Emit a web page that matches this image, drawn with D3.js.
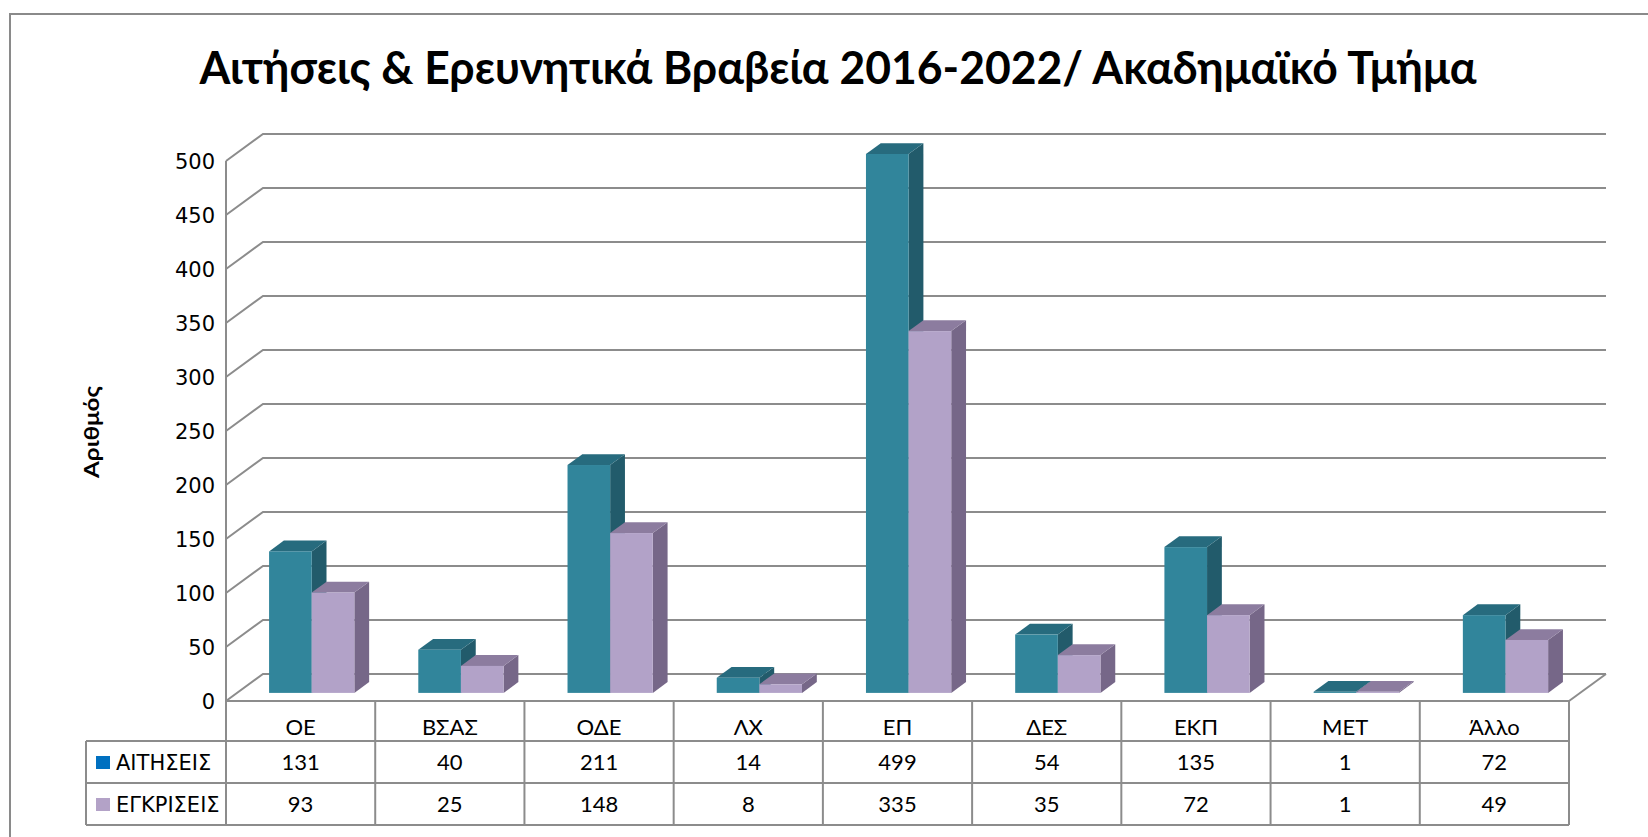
<!DOCTYPE html>
<html>
<head>
<meta charset="utf-8">
<script src="https://cdn.jsdelivr.net/npm/d3@7"></script>
<style>
  body { margin: 0; background: #fff; }
  svg { display: block; }
</style>
</head>
<body>
<script>
// data
const categories = ["ΟΕ", "ΒΣΑΣ", "ΟΔΕ", "ΛΧ", "ΕΠ", "ΔΕΣ", "ΕΚΠ", "ΜΕΤ", "Άλλο"];
const seriesNames = ["ΑΙΤΗΣΕΙΣ", "ΕΓΚΡΙΣΕΙΣ"];
const aitiseis = [131, 40, 211, 14, 499, 54, 135, 1, 72];
const egkriseis = [93, 25, 148, 8, 335, 35, 72, 1, 49];
const yTicks = [0, 50, 100, 150, 200, 250, 300, 350, 400, 450, 500];

const W = 1648, H = 837;
const gridColor = "#8c8c8c";

// face colours: front, top, side
const colors = [
  { front: "#31859b", top: "#276b7e", side: "#225b6b", key: "#0070c0" },
  { front: "#b2a2c8", top: "#8c7c9f", side: "#766788", key: "#b3a2c7" }
];

const svg = d3.select("body").append("svg")
  .attr("width", W)
  .attr("height", H);

// outer chart frame (right/bottom edges run off the page)
svg.append("rect")
  .attr("x", 10).attr("y", 14)
  .attr("width", 1700).attr("height", 900)
  .attr("fill", "none")
  .attr("stroke", "#8a8a8a")
  .attr("stroke-width", 2);

// title
svg.append("text")
  .attr("x", 838).attr("y", 84)
  .attr("text-anchor", "middle")
  .attr("font-family", "Lato, 'Noto Sans', sans-serif")
  .attr("font-weight", "bold")
  .attr("font-size", 46)
  .attr("textLength", 1277)
  .attr("lengthAdjust", "spacingAndGlyphs")
  .attr("fill", "#000")
  .text("Αιτήσεις & Ερευνητικά Βραβεία 2016-2022/ Ακαδημαϊκό Τμήμα");

// 3d plot geometry (oblique projection)
const left = 226, right = 1569;
const depthX = 37, depthY = -27;

const x = d3.scaleBand().domain(categories).range([left, right]).paddingInner(0).paddingOuter(0);
const y = d3.scaleLinear().domain([0, 500]).range([701, 161]);
const xs = d3.scaleBand().domain(seriesNames).range([0, x.bandwidth()]).paddingInner(0).paddingOuter(0.75);

const grid = svg.append("g")
  .attr("fill", "none")
  .attr("stroke", gridColor)
  .attr("stroke-width", 2);

// gridlines: side wall diagonal + back wall horizontal
yTicks.forEach(t => {
  const yy = y(t);
  grid.append("path")
    .attr("d", `M${left},${yy} L${left + depthX},${yy + depthY} L${right + depthX},${yy + depthY}`);
});
// front edge of side wall
grid.append("line")
  .attr("x1", left).attr("x2", left)
  .attr("y1", y(500)).attr("y2", y(0));
// floor right edge
grid.append("line")
  .attr("x1", right).attr("y1", y(0))
  .attr("x2", right + depthX).attr("y2", y(0) + depthY);

// y tick labels
svg.append("g")
  .selectAll("text")
  .data(yTicks)
  .join("text")
  .attr("x", 215)
  .attr("y", d => y(d))
  .attr("dy", "0.36em")
  .attr("text-anchor", "end")
  .attr("font-family", "'DejaVu Sans', Verdana, sans-serif")
  .attr("font-size", 21)
  .attr("fill", "#000")
  .text(d => d);

// y axis title
svg.append("text")
  .attr("transform", "translate(99,432) rotate(-90)")
  .attr("text-anchor", "middle")
  .attr("font-family", "Lato, 'Noto Sans', sans-serif")
  .attr("font-weight", "bold")
  .attr("font-size", 21)
  .attr("textLength", 92)
  .attr("lengthAdjust", "spacingAndGlyphs")
  .attr("fill", "#000")
  .text("Αριθμός");

// bars
const d0 = 0.3, dd = 0.4; // bar front depth & bar depth as fraction of floor depth
const bdx = dd * depthX, bdy = dd * depthY;
const series = [aitiseis, egkriseis];

const bars = svg.append("g");
categories.forEach((c, i) => {
  series.forEach((vals, s) => {
    const v = vals[i];
    const xl = x(c) + xs(seriesNames[s]) + d0 * depthX;
    const xr = xl + xs.bandwidth();
    const yb = y(0) + d0 * depthY;
    const yt = y(v) + d0 * depthY;
    const col = colors[s];
    const g = bars.append("g");
    // side face
    g.append("path")
      .attr("d", `M${xr},${yb} L${xr + bdx},${yb + bdy} L${xr + bdx},${yt + bdy} L${xr},${yt} Z`)
      .attr("fill", col.side);
    // top face
    g.append("path")
      .attr("d", `M${xl},${yt} L${xl + bdx},${yt + bdy} L${xr + bdx},${yt + bdy} L${xr},${yt} Z`)
      .attr("fill", col.top);
    // front face
    g.append("rect")
      .attr("x", xl).attr("y", yt)
      .attr("width", xs.bandwidth())
      .attr("height", yb - yt)
      .attr("fill", col.front);
  });
});

// data table
const rowTop = 701, row1 = 741, row2 = 783, rowBot = 825, legLeft = 86;
const tbl = svg.append("g")
  .attr("stroke", gridColor)
  .attr("stroke-width", 2);

tbl.append("line").attr("x1", left).attr("x2", right).attr("y1", rowTop).attr("y2", rowTop);
[row1, row2, rowBot].forEach(yy => {
  tbl.append("line").attr("x1", legLeft).attr("x2", right).attr("y1", yy).attr("y2", yy);
});
tbl.append("line").attr("x1", legLeft).attr("x2", legLeft).attr("y1", row1).attr("y2", rowBot);
categories.concat([null]).forEach((c, i) => {
  const xx = c === null ? right : x(c);
  tbl.append("line").attr("x1", xx).attr("x2", xx).attr("y1", rowTop).attr("y2", rowBot);
});

const cellFont = "Lato, 'Noto Sans', sans-serif";

svg.append("g")
  .selectAll("text")
  .data(categories)
  .join("text")
  .attr("x", d => x(d) + x.bandwidth() / 2)
  .attr("y", 727)
  .attr("dy", "0.36em")
  .attr("text-anchor", "middle")
  .attr("font-family", cellFont)
  .attr("font-size", 22)
  .text(d => d);

[row1, row2].forEach((rt, s) => {
  const rowVals = series[s];
  svg.append("g")
    .selectAll("text")
    .data(categories)
    .join("text")
    .attr("x", d => x(d) + x.bandwidth() / 2)
    .attr("y", rt + 21)
    .attr("dy", "0.36em")
    .attr("text-anchor", "middle")
    .attr("font-family", cellFont)
    .attr("font-size", 22)
    .text((d, i) => rowVals[i]);

  // legend key + name
  svg.append("rect")
    .attr("x", 96).attr("y", rt + 15)
    .attr("width", 14).attr("height", 13)
    .attr("fill", colors[s].key);
  svg.append("text")
    .attr("x", 116).attr("y", rt + 21)
    .attr("dy", "0.36em")
    .attr("font-family", "'DejaVu Sans', Verdana, sans-serif")
    .attr("font-size", 21)
    .text(seriesNames[s]);
});
</script>
</body>
</html>
